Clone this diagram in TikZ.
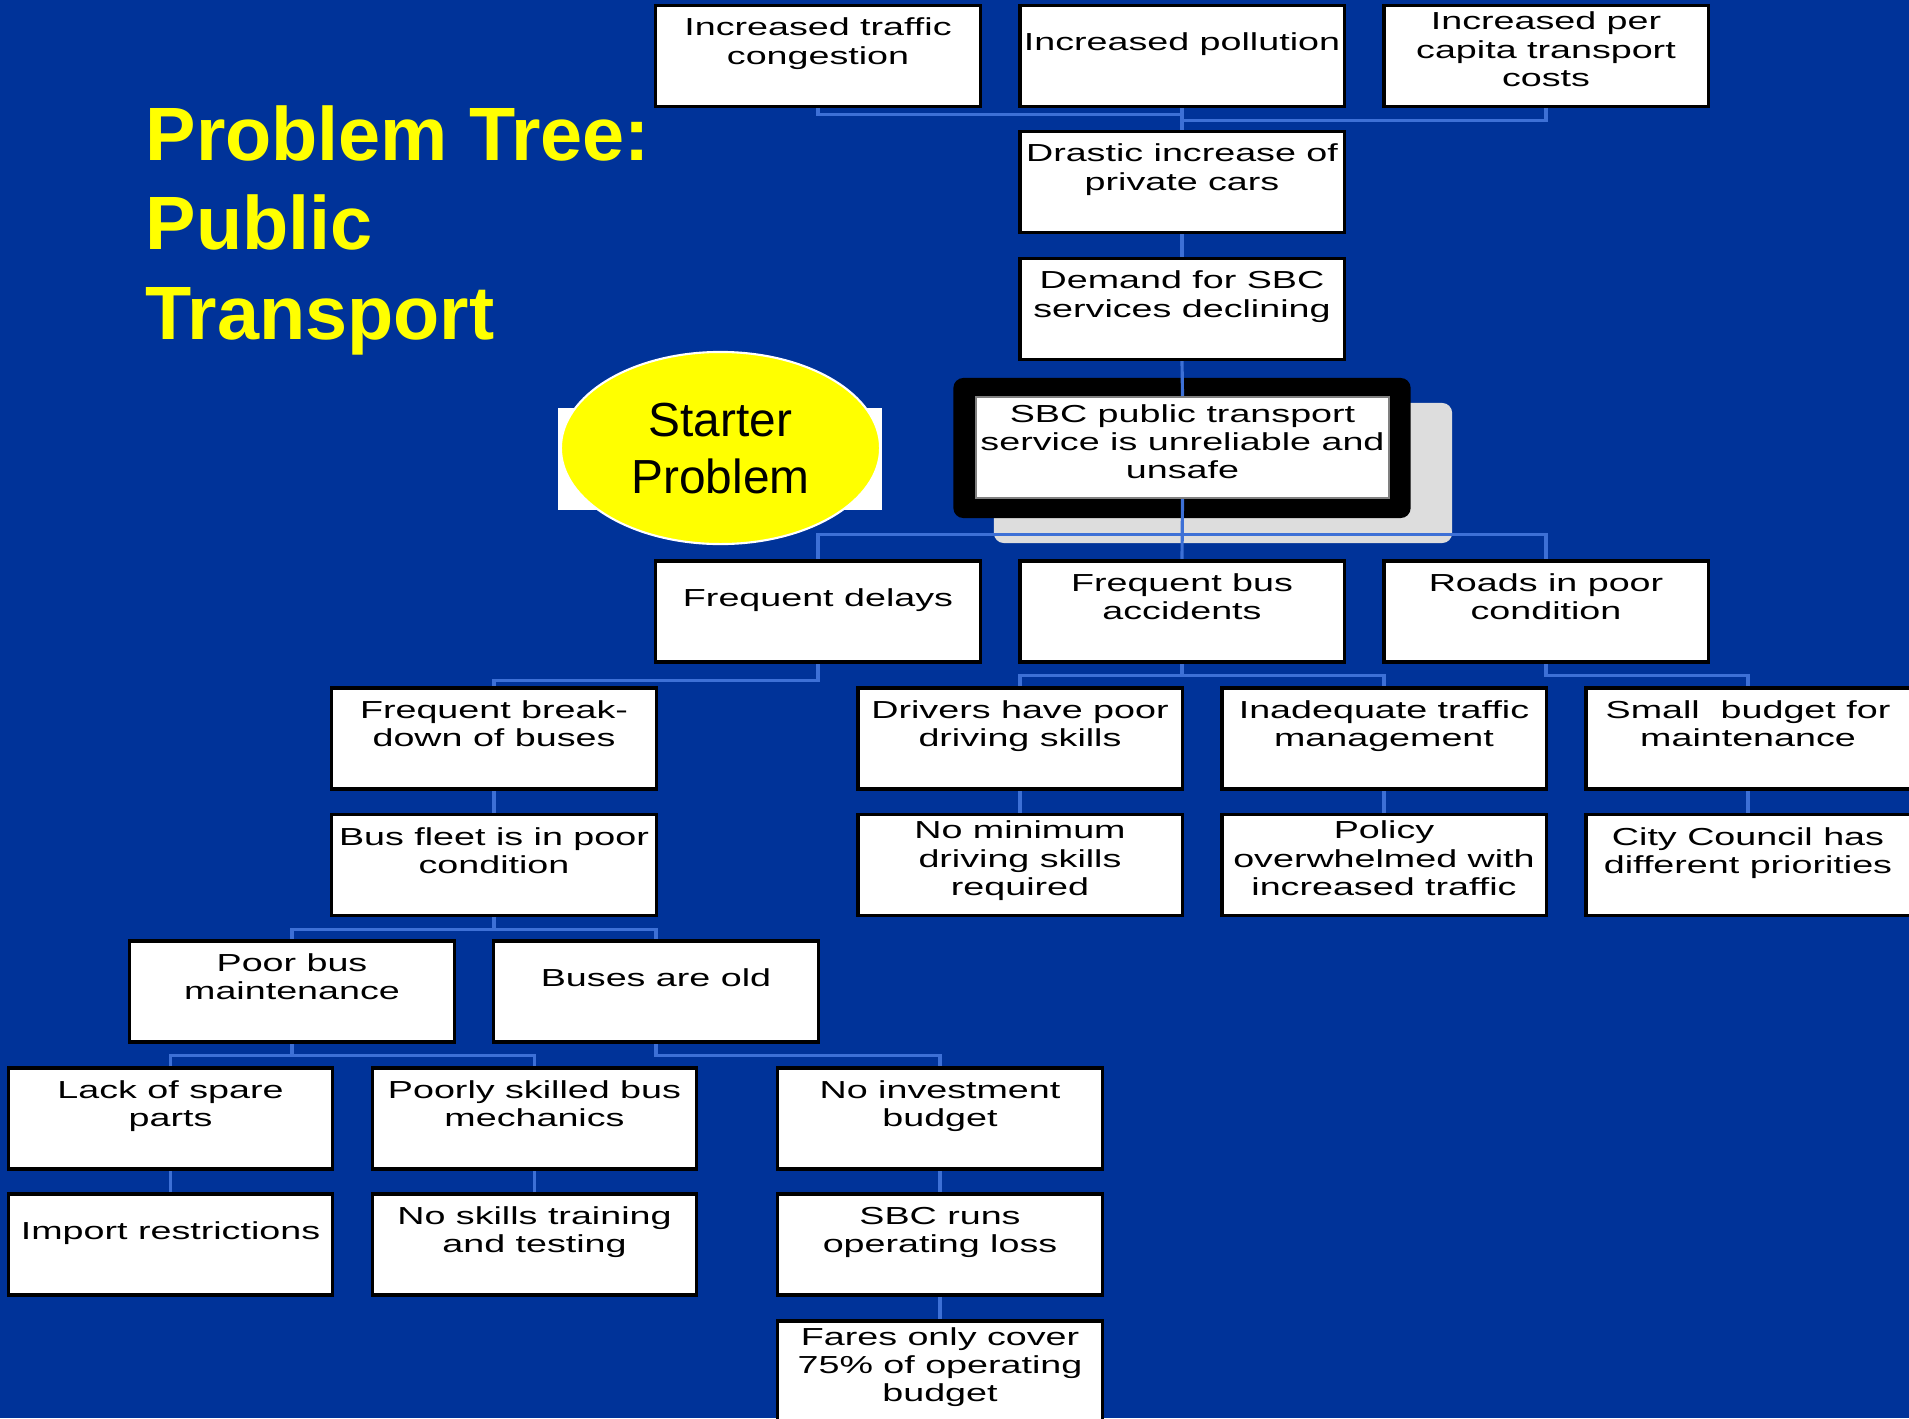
\documentclass[tikz,border=0pt]{standalone}
\usepackage{fontspec}
\usepackage{xcolor}
\usepackage{tikz}
\usetikzlibrary{shapes.geometric,backgrounds}
\definecolor{sbcblue}{HTML}{003399}
\definecolor{linkblue}{HTML}{3D70D6}
\definecolor{shadegray}{HTML}{DDDDDD}
\definecolor{titleyel}{HTML}{FFFF00}
\newfontfamily\boxfont[FakeStretch=1.53]{Liberation Sans}
\newfontfamily\plainfont{Liberation Sans}
\newcommand{\bt}[2][0.2cm]{\raisebox{#1}[0pt][0pt]{\makebox[0pt]{\begin{tabular}[t]{@{}c@{}}#2\end{tabular}}}}

\begin{document}
\begin{tikzpicture}[x=0.01cm,y=-0.01cm,
  box/.style={draw=black,line width=0.9pt,fill=white,minimum width=3.24cm,
              minimum height=1.01cm,inner sep=0pt,
              font={\boxfont\fontsize{7}{7.97}\selectfont}},
  plainbox/.style={fill=white,minimum width=3.24cm,minimum height=1.02cm,inner sep=0pt},
  starter/.style={ellipse,fill=titleyel,draw=white,line width=0.6pt,
                  minimum width=3.19cm,minimum height=1.92cm,inner sep=0pt,
                  font={\plainfont\fontsize{13.6}{16.2}\selectfont}},
  title/.style={text=titleyel,inner sep=0pt,
                font={\plainfont\bfseries\fontsize{21.5}{25.5}\selectfont}},
  coreframe/.style={fill=black,rounded corners=0.1cm,minimum width=4.57cm,
                    minimum height=1.40cm,inner sep=0pt},
  dropshade/.style={fill=shadegray,rounded corners=0.1cm,minimum width=4.58cm,
                    minimum height=1.40cm,inner sep=0pt},
  conn/.style={draw=linkblue,line width=0.9pt}
]
  \useasboundingbox (0,0) rectangle (1909,1418);
  \begin{scope}[on background layer]
    \fill[sbcblue] (0,0) rectangle (1909,1418);
    \node[dropshade] (shd) at (1223,473) {};
    \node[coreframe] (frm) at (1182,448) {};
  \end{scope}

  \node[title,anchor=base west] (ttl) at (145,160)
    {\begin{tabular}[t]{@{}l@{}}Problem Tree:\\Public\\Transport\end{tabular}};

  \node[plainbox] (sbg) at (720,459) {};
  \node[starter] (start) at (720.5,448) {\bt[0.11cm]{Starter\\Problem}};

  % effects
  \node[box] (cong) at (818,56) {\bt{Increased traffic\\congestion}};
  \node[box] (poll) at (1182,56) {\bt[0.05cm]{Increased pollution}};
  \node[box] (cost) at (1546,56) {\bt[0.26cm]{Increased per\\capita transport\\costs}};
  \node[box] (cars) at (1182,182) {\bt{Drastic increase of\\private cars}};
  \node[box] (demand) at (1182,309) {\bt{Demand for SBC\\services declining}};

  % core problem
  \node[box,draw=gray,line width=0.5pt,minimum width=4.13cm] (core) at (1182.5,447.5)
    {\bt[0.25cm]{SBC public transport\\service is unreliable and\\unsafe}};

  % causes
  \node[box] (delay) at (818,611.5) {\bt[0.05cm]{Frequent delays}};
  \node[box] (acc) at (1182,611.5) {\bt{Frequent bus\\accidents}};
  \node[box] (roads) at (1546,611.5) {\bt{Roads in poor\\condition}};

  \node[box] (brk) at (494,738.5) {\bt{Frequent break-\\down of buses}};
  \node[box] (drv) at (1020,738.5) {\bt{Drivers have poor\\driving skills}};
  \node[box] (mgmt) at (1384,738.5) {\bt{Inadequate traffic\\management}};
  \node[box] (small) at (1748,738.5) {\bt{Small\ \ budget for\\maintenance}};

  \node[box] (fleet) at (494,865) {\bt{Bus fleet is in poor\\condition}};
  \node[box] (nomin) at (1020,865) {\bt[0.26cm]{No minimum\\driving skills\\required}};
  \node[box] (policy) at (1384,865) {\bt[0.26cm]{Policy\\overwhelmed with\\increased traffic}};
  \node[box] (council) at (1748,865) {\bt{City Council has\\different priorities}};

  \node[box] (maint) at (292,991.5) {\bt{Poor bus\\maintenance}};
  \node[box] (old) at (656,991.5) {\bt[0.05cm]{Buses are old}};

  \node[box] (spare) at (170.5,1118.5) {\bt{Lack of spare\\parts}};
  \node[box] (mech) at (534.5,1118.5) {\bt{Poorly skilled bus\\mechanics}};
  \node[box] (invest) at (940,1118.5) {\bt{No investment\\budget}};

  \node[box] (import) at (170.5,1244.5) {\bt[0.05cm]{Import restrictions}};
  \node[box] (train) at (534.5,1244.5) {\bt{No skills training\\and testing}};
  \node[box] (loss) at (940,1244.5) {\bt{SBC runs\\operating loss}};

  \node[box] (fares) at (940,1371.5) {\bt[0.26cm]{Fares only cover\\75\% of operating\\budget}};

  \begin{scope}[on background layer]
    \draw[conn] (poll.south) -- (cars.north);
    \draw[conn] (cong.south) -- ++(0,6.5) -| (cars.north);
    \draw[conn] (cost.south) -- ++(0,12.5) -| (cars.north);
    \draw[conn] (cars.south) -- (demand.north);
    \draw[conn] (demand.south) -- (core.north);
    \draw[conn] (core.south) -- (acc.north);
    \draw[conn] (delay.north) -- ++(0,-25) -| (roads.north);
    \draw[conn] (delay.south) -- ++(0,17) -| (brk.north);
    \draw[conn] (acc.south) -- ++(0,12) -| (drv.north);
    \draw[conn] (acc.south) -- ++(0,12) -| (mgmt.north);
    \draw[conn] (roads.south) -- ++(0,12) -| (small.north);
    \draw[conn] (brk.south) -- (fleet.north);
    \draw[conn] (drv.south) -- (nomin.north);
    \draw[conn] (mgmt.south) -- (policy.north);
    \draw[conn] (small.south) -- (council.north);
    \draw[conn] (fleet.south) -- ++(0,12.5) -| (maint.north);
    \draw[conn] (fleet.south) -- ++(0,12.5) -| (old.north);
    \draw[conn] (maint.south) -- ++(0,12) -| (spare.north);
    \draw[conn] (maint.south) -- ++(0,12) -| (mech.north);
    \draw[conn] (old.south) -- ++(0,12) -| (invest.north);
    \draw[conn] (spare.south) -- (import.north);
    \draw[conn] (mech.south) -- (train.north);
    \draw[conn] (invest.south) -- (loss.north);
    \draw[conn] (loss.south) -- (fares.north);
  \end{scope}
\end{tikzpicture}
\end{document}
